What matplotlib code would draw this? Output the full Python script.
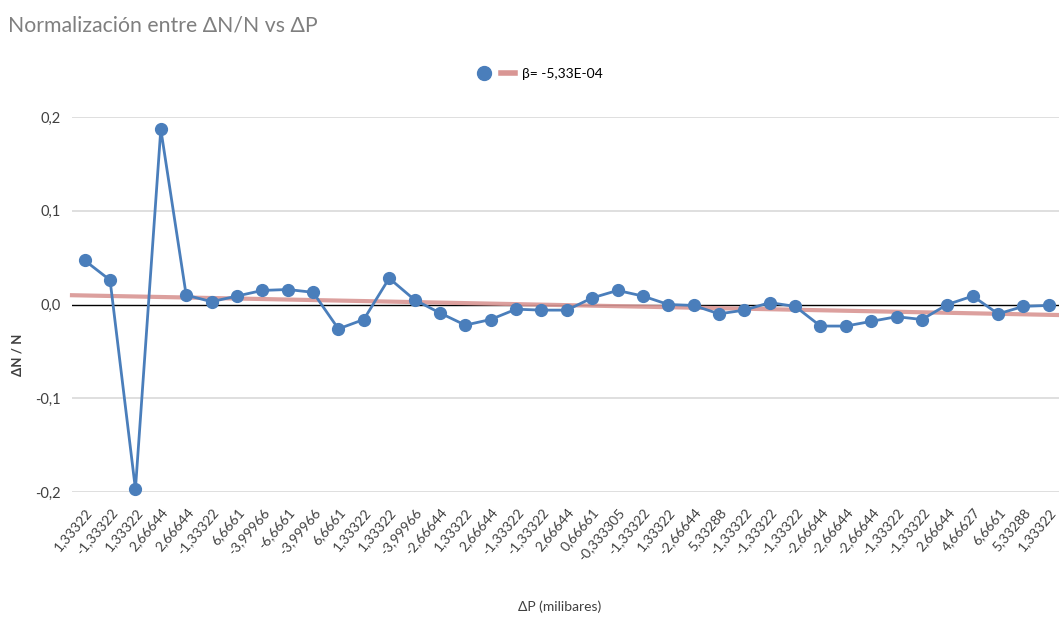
import numpy as np
import matplotlib
matplotlib.use("Agg")
import matplotlib.pyplot as plt
from matplotlib.lines import Line2D

# presion (milibares), etiquetas del eje x tal cual aparecen
delta_p = ["1,33322", "-1,33322", "1,33322", "2,66644", "2,66644", "-1,33322",
           "6,6661", "-3,99966", "-6,6661", "-3,99966", "6,6661", "1,33322",
           "1,33322", "-3,99966", "-2,66644", "1,33322", "2,66644", "-1,33322",
           "-1,33322", "2,66644", "0,66661", "-0,333305", "-1,33322", "1,33322",
           "-2,66644", "5,33288", "-1,33322", "-1,33322", "-1,33322", "-2,66644",
           "-2,66644", "-2,66644", "-1,33322", "-1,33322", "2,66644", "4,66627",
           "6,6661", "5,33288", "1,33322"]

# dN/N
dn_n = [0.047, 0.026, -0.197, 0.187, 0.010, 0.003, 0.009, 0.015, 0.016, 0.013,
        -0.026, -0.016, 0.028, 0.005, -0.009, -0.022, -0.016, -0.005, -0.006, -0.006,
        0.007, 0.015, 0.009, 0.000, -0.001, -0.010, -0.006, 0.002, -0.002, -0.023,
        -0.023, -0.018, -0.013, -0.016, 0.000, 0.009, -0.010, -0.002, -0.001]

y_ticks = [-0.2, -0.1, 0.0, 0.1, 0.2]
y_tick_labels = ["-0,2", "-0,1", "0,0", "0,1", "0,2"]
trend_label = "β= -5,33E-04"

plt.rcParams['font.family'] = ['Lato', 'DejaVu Sans']

blue = "#4a7ebb"
pink = "#d99694"

fig = plt.figure(figsize=(10.59, 6.22), dpi=100)
ax = fig.add_axes([72 / 1059, 1 - 492 / 622, 1 - 72 / 1059, (492 - 117) / 622])

x = np.arange(1, len(dn_n) + 1)
x_lo, x_hi = 0.5, len(dn_n) + 0.4

# grid
for v in y_ticks:
    if v != 0:
        ax.axhline(v, color="#d9d9d9", lw=1.2, zorder=0)
ax.axhline(0, color="black", lw=1.0, zorder=1)

# tendencia lineal
coef = np.polyfit(x, dn_n, 1)
xt = np.array([x_lo, x_hi])
ax.plot(xt, np.polyval(coef, xt), color=pink, lw=3, alpha=0.9, zorder=2, clip_on=False)

ax.plot(x, dn_n, color=blue, lw=2, marker="o", ms=8.5, mfc=blue, mec=blue,
        zorder=3, clip_on=False)

ax.set_xlim(x_lo, x_hi)
ax.set_ylim(-0.2, 0.2)
ax.set_yticks(y_ticks)
ax.set_yticklabels(y_tick_labels, fontsize=10.5, color="#404040")
ax.set_xticks(x)
ax.set_xticklabels(delta_p, rotation=50, ha="right", rotation_mode="anchor",
                   fontsize=10, color="#404040")
ax.tick_params(length=0, pad=8)
ax.tick_params(axis="x", pad=10)
for s in ax.spines.values():
    s.set_visible(False)

fig.text(8 / 1059, 1 - 25 / 622, "Normalización entre ΔN/N vs ΔP", fontsize=15.3,
         color="#7f7f7f", ha="left", va="center")
fig.text(17 / 1059, 1 - 355 / 622, "ΔN / N", rotation=90, fontsize=9.5,
         fontweight="bold", color="#404040", ha="center", va="center")
fig.text(560 / 1059, 1 - 607 / 622, "ΔP (milibares)", fontsize=10,
         color="#404040", ha="center", va="center")

handles = [Line2D([], [], ls="none", marker="o", ms=10, color=blue),
           Line2D([], [], color=pink, lw=4)]
fig.legend(handles, ["", trend_label], loc="center", bbox_to_anchor=(540 / 1059, 1 - 74 / 622),
           ncol=2, frameon=False, fontsize=10, handlelength=1.0, columnspacing=0.2,
           handletextpad=0.5)

fig.savefig("out.png", dpi=100)
